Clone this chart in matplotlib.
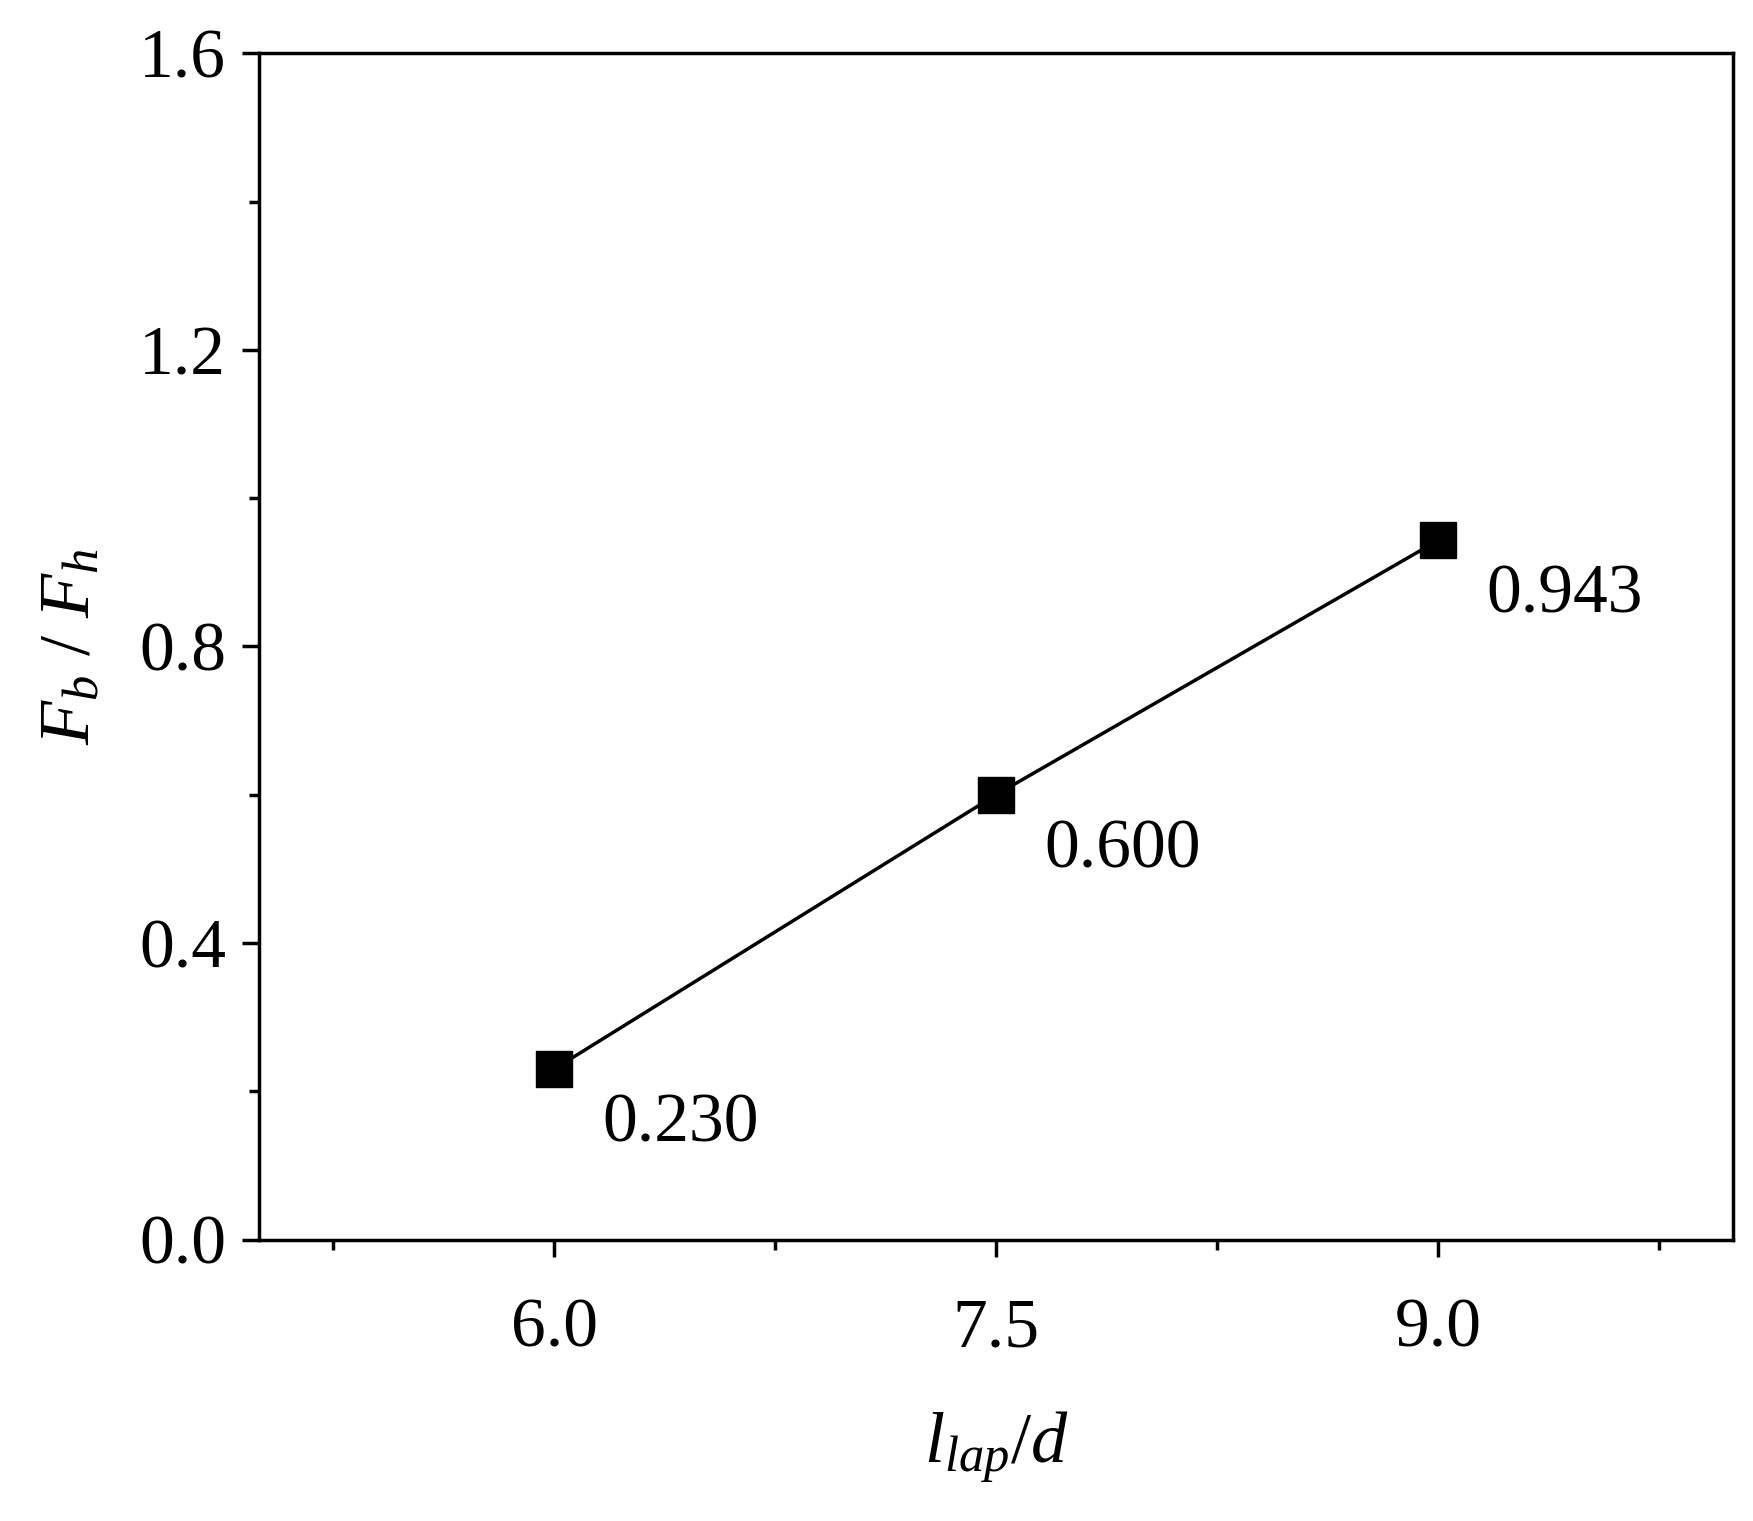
import matplotlib.pyplot as plt
from matplotlib.ticker import MultipleLocator, FixedLocator

plt.rcParams['font.family'] = ['Liberation Serif', 'DejaVu Serif']
plt.rcParams['mathtext.fontset'] = 'custom'
plt.rcParams['mathtext.rm'] = 'Liberation Serif'
plt.rcParams['mathtext.it'] = 'Liberation Serif:italic'

# данные
lap_ratio = [6.0, 7.5, 9.0]
force_ratio = [0.230, 0.600, 0.943]
point_labels = ["0.230", "0.600", "0.943"]

fig = plt.figure(figsize=(17.53, 15.21), dpi=100)
ax = fig.add_axes([0.148, 0.185, 0.8405, 0.78])

ax.plot(lap_ratio, force_ratio, color="black", linewidth=2.5,
        marker="s", markersize=26)
for x, y, t in zip(lap_ratio, force_ratio, point_labels):
    ax.annotate(t, (x, y), xytext=(35, -40), textcoords="offset points",
                fontsize=50, va="center", ha="left")

ax.set_xlim(5, 10)
ax.set_ylim(0, 1.6)
ax.set_xticks(lap_ratio)
ax.set_xticklabels(["6.0", "7.5", "9.0"])
ax.xaxis.set_minor_locator(FixedLocator([5.25, 6.75, 8.25, 9.75]))
ax.yaxis.set_major_locator(MultipleLocator(0.4))
ax.yaxis.set_minor_locator(MultipleLocator(0.2))
ax.tick_params(which="both", direction="out", width=2.5, labelsize=50, pad=12)
ax.tick_params(which="major", length=12)
ax.tick_params(which="minor", length=7)
ax.tick_params(axis="x", pad=30)
for s in ax.spines.values():
    s.set_linewidth(2.5)

ax.set_xlabel(r"$l_{lap}/d$", fontsize=52, labelpad=35)
ax.set_ylabel(r"$F_b$ / $F_h$", fontsize=52, labelpad=25)

fig.savefig("out.png", dpi=100)
